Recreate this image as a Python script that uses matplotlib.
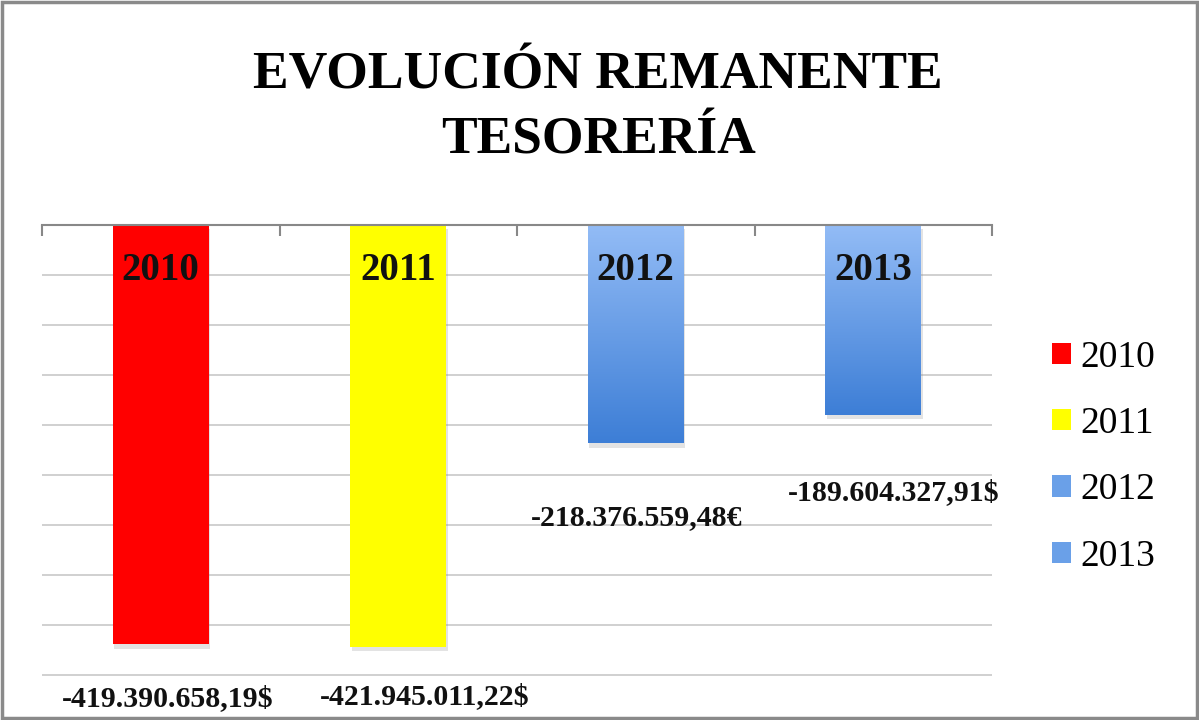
import matplotlib
matplotlib.use("Agg")
import matplotlib.pyplot as plt
import numpy as np
from matplotlib.patches import Patch, Rectangle
import matplotlib.patheffects as pe
from matplotlib.colors import LinearSegmentedColormap

categories = ["2010", "2011", "2012", "2013"]
values_millions = [-419.390658, -421.945011, -218.376559, -189.604328]
value_labels = ["-419.390.658,19$", "-421.945.011,22$", "-218.376.559,48€", "-189.604.327,91$"]
colors = ["#ff0000", "#ffff00", "#6aa0e8", "#6aa0e8"]
gradient_flags = [False, False, True, True]
title = "EVOLUCIÓN REMANENTE\nTESORERÍA"

serif = ["Liberation Serif", "DejaVu Serif"]

fig = plt.figure(figsize=(11.99, 7.2), dpi=100)
ax = fig.add_axes([42/1199, 1-677/720, (992-42)/1199, (677-225)/720])

x = np.arange(len(categories))
bars = ax.bar(x, values_millions, width=0.404, color=colors, zorder=3,
              path_effects=[pe.SimplePatchShadow(offset=(1, -3), shadow_rgbFace="#909090", alpha=0.25), pe.Normal()])

ymin = -452
# gradient for blue bars
grad = np.linspace(0, 1, 256).reshape(-1, 1)
cmap = LinearSegmentedColormap.from_list("bl", ["#93bcf6", "#3d7ed6"])
for b, g in zip(bars, gradient_flags):
    if g:
        x0 = b.get_x(); w = b.get_width(); h = b.get_height()
        im = ax.imshow(grad, extent=[x0, x0 + w, h, 0], cmap=cmap, aspect="auto",
                       zorder=4, origin="upper")
        im.set_clip_path(b)
ax.set_xlim(-0.5, 3.5)
ax.set_ylim(ymin, 0)

# grid
ax.set_yticks(np.arange(-450, 1, 50))
ax.yaxis.grid(True, color="#c8c8c8", linewidth=1.2, zorder=0)
ax.set_axisbelow(True)
ax.tick_params(axis="y", left=False, labelleft=False)
for s in ["left", "right", "bottom"]:
    ax.spines[s].set_visible(False)
ax.spines["top"].set_color("#888888")
ax.spines["top"].set_linewidth(1.5)
ax.spines["top"].set_zorder(5)
ax.xaxis.set_ticks_position("top")
ax.set_xticks(np.arange(-0.5, 3.6, 1.0))
ax.tick_params(axis="x", direction="in", length=8, width=1.5, color="#888888", labeltop=False, labelbottom=False)

# year labels inside bars
for i, c in enumerate(categories):
    ax.annotate(c, xy=(i, 0), xytext=(0, -45), textcoords="offset pixels",
                ha="center", va="center", fontsize=28, fontweight="bold",
                family=serif, color="#111111", zorder=6)

# value labels
offsets = [(7, -54), (26, -50), (1, -74), (20, -78)]
for i, (v, lab) in enumerate(zip(values_millions, value_labels)):
    ax.annotate(lab, xy=(i, v), xytext=offsets[i], textcoords="offset pixels",
                ha="center", va="center", fontsize=21.5, fontweight="bold",
                family=serif, color="#111111", annotation_clip=False, zorder=6)

# title
fig.text(598/1199, 1-108/720, title, ha="center", va="center", fontsize=38.5,
         fontweight="bold", family=serif, linespacing=1.45)

# legend
handles = [Patch(facecolor=c, edgecolor="none") for c in ["#ff0000", "#ffff00", "#6aa0e8", "#6aa0e8"]]
fig.legend(handles, categories, loc="center left", bbox_to_anchor=(1018/1199, 1-457/720),
           frameon=False, prop={"family": serif, "size": 27}, handlelength=0.5,
           handleheight=0.5, handletextpad=0.25, labelspacing=0.85)

# figure border
fig.patches.append(Rectangle((0.002, 0.003), 0.996, 0.994, transform=fig.transFigure,
                             fill=False, edgecolor="#8a8a8a", linewidth=2.5))

fig.savefig("out.png", dpi=100)
